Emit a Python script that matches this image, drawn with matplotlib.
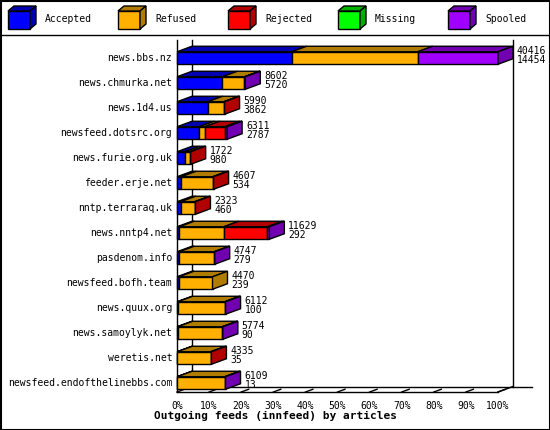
import matplotlib
matplotlib.use('Agg')
import matplotlib.pyplot as plt
from matplotlib.patches import Polygon, Rectangle

feeds = ['news.bbs.nz', 'news.chmurka.net', 'news.1d4.us', 'newsfeed.dotsrc.org',
         'news.furie.org.uk', 'feeder.erje.net', 'nntp.terraraq.uk', 'news.nntp4.net',
         'pasdenom.info', 'newsfeed.bofh.team', 'news.quux.org', 'news.samoylyk.net',
         'weretis.net', 'newsfeed.endofthelinebbs.com']
offered = [40416, 8602, 5990, 6311, 1722, 4607, 2323, 11629, 4747, 4470, 6112, 5774, 4335, 6109]
accepted = [14454, 5720, 3862, 2787, 980, 534, 460, 292, 279, 239, 100, 90, 35, 13]
refused = [15860, 2770, 2010, 700, 620, 3950, 1750, 5600, 4400, 4231, 5900, 5580, 4200, 5990]
rejected = [0, 0, 118, 2520, 122, 123, 113, 5500, 0, 0, 0, 0, 100, 0]
missing = [0] * 14
spooled = [10102, 112, 0, 304, 0, 0, 0, 237, 68, 0, 112, 104, 0, 106]

series = ['Accepted', 'Refused', 'Rejected', 'Missing', 'Spooled']
front = ['#0000ff', '#ffb000', '#ff0000', '#00ff00', '#a000ff']
dark = ['#0000b0', '#b07c00', '#b00000', '#00b000', '#7000b0']

W, H = 550, 430
fig = plt.figure(figsize=(W / 100, H / 100), dpi=100)
fig.patch.set_facecolor('white')
ax = fig.add_axes([177 / W, 1 - 392 / H, 321 / W, 352 / H])
ax.set_xlim(0, 100)
ax.set_ylim(13.36, -0.72)
ax.axis('off')

DX, DY, BH = 4.67, -0.22, 0.5
mono = 'DejaVu Sans Mono'
vmax = max(offered)

# back wall and axes
kw = dict(color='black', lw=1, clip_on=False, zorder=0)
ax.plot([0, 0], [-0.72, 13.36], **kw)
ax.plot([DX, DX], [-0.72, 13.36 + DY], **kw)
ax.plot([100 + DX, 100 + DX], [-0.72, 13.36 + DY], **kw)
ax.plot([DX, 100 + DX + 6], [13.36 + DY, 13.36 + DY], **kw)
ax.plot([100, 100 + DX], [13.36, 13.36 + DY], **kw)
ax.plot([0, 100], [13.36, 13.36], **kw)
for t in range(0, 101, 10):
    ax.plot([t, t + DX * 0.5], [13.36, 13.36 + DY * 0.5], **kw)
    ax.text(t, 13.7, f'{t}%', ha='center', va='top', fontsize=7, family=mono)

for i, name in enumerate(feeds):
    vals = [accepted[i], refused[i], rejected[i], missing[i], spooled[i]]
    y0, y1 = i - BH / 2, i + BH / 2
    x = 0
    last = 0
    for k, v in enumerate(vals):
        if v <= 0:
            continue
        w = v / vmax * 100
        ax.add_patch(Rectangle((x, y0), w, BH, fc=front[k], ec='black', lw=1, clip_on=False))
        ax.add_patch(Polygon([(x, y0), (x + DX, y0 + DY), (x + w + DX, y0 + DY), (x + w, y0)],
                             fc=dark[k], ec='black', lw=1, clip_on=False))
        x += w
        last = k
    ax.add_patch(Polygon([(x, y0), (x + DX, y0 + DY), (x + DX, y1 + DY), (x, y1)],
                         fc=dark[last], ec='black', lw=1, clip_on=False))
    ax.text(-1.5, i, name, ha='right', va='center', fontsize=7, family=mono)
    ax.text(x + DX + 1.2, i - 0.1, f'{offered[i]}\n{accepted[i]}', ha='left', va='center',
            fontsize=7, family=mono, linespacing=0.95)

fig.text(275 / W, 1 - 416 / H, 'Outgoing feeds (innfeed) by articles', ha='center', va='center',
         fontsize=8, family=mono, weight='bold')

# legend boxes in figure pixels
lax = fig.add_axes([0, 0, 1, 1], zorder=-1)
lax.set_xlim(0, W)
lax.set_ylim(H, 0)
lax.axis('off')
lax.add_patch(Rectangle((0.5, 0.5), W - 1, H - 1, fill=False, ec='black', lw=1.5))
lax.plot([0, W], [35, 35], color='black', lw=1)
for k, s in enumerate(series):
    bx = 8 + 110 * k
    lax.add_patch(Rectangle((bx, 11), 22, 18, fc=front[k], ec='black', lw=1))
    lax.add_patch(Polygon([(bx, 11), (bx + 6, 6), (bx + 28, 6), (bx + 22, 11)], fc=dark[k], ec='black', lw=1))
    lax.add_patch(Polygon([(bx + 22, 11), (bx + 28, 6), (bx + 28, 24), (bx + 22, 29)], fc=dark[k], ec='black', lw=1))
    lax.text(bx + 37, 19, s, ha='left', va='center', fontsize=7, family=mono)

fig.savefig('out.png', dpi=100, facecolor='white')
